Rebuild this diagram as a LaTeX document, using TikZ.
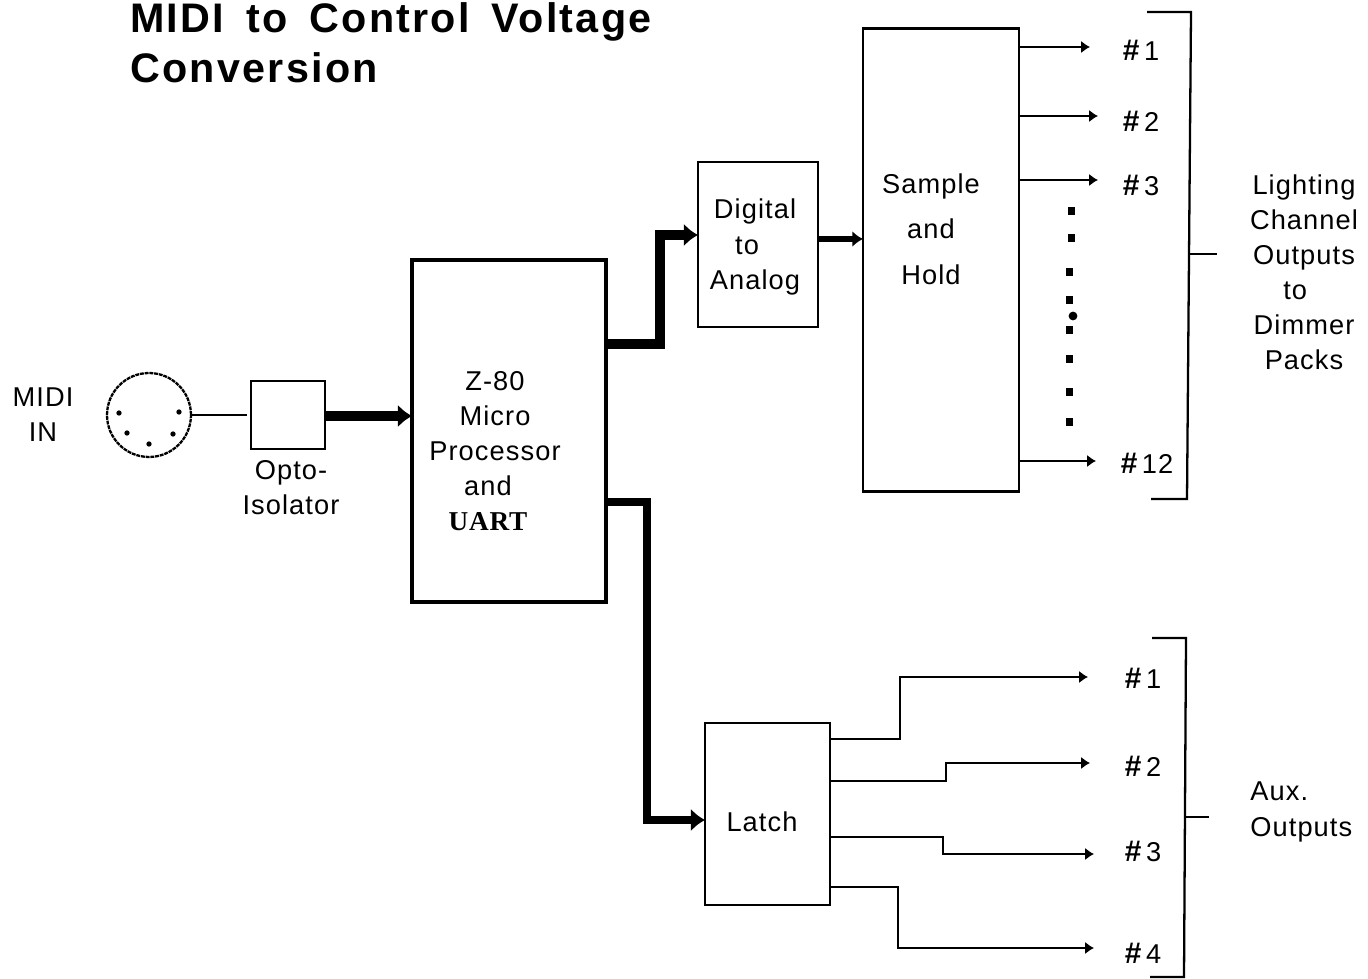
\documentclass[tikz,border=0pt]{standalone}
\usepackage{fontspec}
\setmainfont[LetterSpace=4]{Liberation Sans}
\newfontfamily\uartfont[LetterSpace=3]{Liberation Serif}
\newfontfamily\titlefont[LetterSpace=5.5,WordSpace=1.6]{Liberation Sans}
\usetikzlibrary{arrows.meta, positioning}
\tikzset{
    blockbox/.style={draw=black, line width=1.3pt, inner sep=0pt, outer sep=0pt},
    heavybox/.style={blockbox, line width=2.6pt},
    label/.style={align=center, inner sep=0pt, font=\fontsize{15.5}{20}\selectfont},
    wire/.style={line width=1.4pt, -{Latex[length=5pt,width=7pt]}},
    bus/.style={line width=5.5pt, -{Latex[length=8pt,width=13pt]}},
    midbus/.style={line width=3.4pt, -{Latex[length=6pt,width=9pt]}},
    plainwire/.style={line width=1.3pt},
    pin/.style={circle, fill=black, inner sep=0pt, minimum size=3pt},
    dotmark/.style={rectangle, fill=black, inner sep=0pt, minimum size=4pt}
}
\newcommand{\chan}[1]{{\fontsize{17}{17}\selectfont\bfseries\#}\,#1}

\begin{document}
\begin{tikzpicture}[x=0.02cm, y=-0.02cm]
    \useasboundingbox (0,0) rectangle (1368,979);

    % Title
    \node[anchor=west, align=left, inner sep=0pt, font=\titlefont\bfseries\fontsize{23.5}{28.3}\selectfont] (title) at (130,43) {MIDI to Control Voltage\\Conversion};

    % MIDI connector and pins
    \node[label] (midilabel) at (43,415) {MIDI\\IN};
    \node[circle, draw=black, line width=1.3pt, dash pattern=on 2.2pt off 0.5pt, minimum size=1.68cm, inner sep=0pt] (midi) at (149,415) {};
    \node[pin] (pin1) at (119,413) {};
    \node[pin] (pin2) at (179,412) {};
    \node[pin] (pin3) at (127,433) {};
    \node[pin] (pin4) at (173,434) {};
    \node[pin] (pin5) at (149,444) {};

    % Main blocks
    \node[blockbox, minimum width=1.48cm, minimum height=1.36cm] (opto) at (288,415) {};
    \node[label] (optolabel) at (291,488) {Opto-\\Isolator};
    \node[heavybox, minimum width=3.88cm, minimum height=6.84cm] (z80) at (509,431) {};
    \node[label] (z80label) at (495,451) {Z-80\\Micro\\Processor\\\mbox{and\hspace{8pt}}\\\mbox{\uartfont\bfseries UART\hspace{8pt}}};
    \node[blockbox, minimum width=2.40cm, minimum height=3.30cm] (dac) at (758,244.5) {};
    \node[label] (daclabel) at (755,247) {Digital\\\mbox{to\hspace{9pt}}\\Analog};
    \node[blockbox, minimum width=3.12cm, minimum height=9.26cm] (sample) at (941,260) {};
    \node[label, font=\fontsize{15.5}{26}\selectfont] (samplelabel) at (931,229) {Sample\\and\\Hold};
    \node[blockbox, minimum width=2.50cm, minimum height=3.64cm] (latch) at (767.5,814) {};
    \node[label] (latchlabel) at (762,822) {Latch};

    % Thick data paths
    \coordinate (bendda) at (660,235);
    \coordinate (bendlatch) at (647,820);
    \draw[plainwire, shorten >=2.5pt] (midi.east) -- (opto.west |- midi.east);
    \draw[bus] (opto.east |- 0,416) -- (z80.west |- 0,416);
    \draw[bus] (z80.east |- 0,344) -| (bendda) -- (dac.west |- bendda);
    \draw[bus, line width=5pt] (z80.east |- 0,502) -| (bendlatch) -- (latch.west |- bendlatch);
    \draw[midbus] (dac.east |- 0,239) -- (sample.west |- 0,239);

    % Lighting channel outputs
    \coordinate (lightend1) at (1090,47);
    \coordinate (lightend2) at (1098,116);
    \coordinate (lightend3) at (1098,180);
    \coordinate (lightend12) at (1096,461);
    \draw[wire] (sample.east |- lightend1) -- (lightend1);
    \draw[wire] (sample.east |- lightend2) -- (lightend2);
    \draw[wire] (sample.east |- lightend3) -- (lightend3);
    \draw[wire] (sample.east |- lightend12) -- (lightend12);
    \node[label] (light1) at (1141,50) {\chan{1}};
    \node[label] (light2) at (1141,121) {\chan{2}};
    \node[label] (light3) at (1141,185) {\chan{3}};
    \node[label] (light12) at (1147,463) {\chan{12}};

    % Dots between channels
    \node[dotmark] (dot1) at (1071,211) {};
    \node[dotmark] (dot2) at (1071,238) {};
    \node[dotmark] (dot3) at (1069,272) {};
    \node[dotmark] (dot4) at (1069,300) {};
    \node[pin, minimum size=5pt] (dot5) at (1073,316) {};
    \node[dotmark] (dot6) at (1069,330) {};
    \node[dotmark] (dot7) at (1069,359) {};
    \node[dotmark] (dot8) at (1069,392) {};
    \node[dotmark] (dot9) at (1069,422) {};

    % Aux outputs from the latch
    \coordinate (auxend1) at (1088,677);
    \coordinate (auxend2) at (1090,763);
    \coordinate (auxend3) at (1094,854);
    \coordinate (auxend4) at (1094,948);
    \coordinate (auxbend1) at (900,677);
    \coordinate (auxbend2) at (946,763);
    \coordinate (auxbend3) at (943,854);
    \coordinate (auxbend4) at (898,948);
    \draw[wire] (latch.east |- 0,739) -| (auxbend1) -- (auxend1);
    \draw[wire] (latch.east |- 0,781) -| (auxbend2) -- (auxend2);
    \draw[wire] (latch.east |- 0,837) -| (auxbend3) -- (auxend3);
    \draw[wire] (latch.east |- 0,887) -| (auxbend4) -- (auxend4);
    \node[label] (aux1) at (1143,678) {\chan{1}};
    \node[label] (aux2) at (1143,766) {\chan{2}};
    \node[label] (aux3) at (1143,851) {\chan{3}};
    \node[label] (aux4) at (1143,953) {\chan{4}};

    % Brackets and their labels
    \coordinate (lighttop) at (1147,12);
    \coordinate (lighttopc) at (1191,12);
    \coordinate (lightbotc) at (1187,499);
    \coordinate (lightbot) at (1151,499);
    \coordinate (lightstem) at (1189,254);
    \coordinate (lightstemend) at (1217,254);
    \draw[plainwire] (lighttop) -- (lighttopc) -- (lightbotc) -- (lightbot);
    \draw[plainwire] (lightstem) -- (lightstemend);
    \node[label, font=\fontsize{15.5}{19.9}\selectfont] (lightlabel) at (1304,272) {Lighting\\Channel\\Outputs\\\mbox{to\hspace{10pt}}\\Dimmer\\Packs};

    \coordinate (auxtop) at (1152,638);
    \coordinate (auxtopc) at (1186,638);
    \coordinate (auxbotc) at (1184,977);
    \coordinate (auxbot) at (1150,977);
    \coordinate (auxstem) at (1185,817);
    \coordinate (auxstemend) at (1209,817);
    \draw[plainwire] (auxtop) -- (auxtopc) -- (auxbotc) -- (auxbot);
    \draw[plainwire] (auxstem) -- (auxstemend);
    \node[label, align=left, anchor=west] (auxlabel) at (1250,812) {Aux.\\Outputs};
\end{tikzpicture}
\end{document}
